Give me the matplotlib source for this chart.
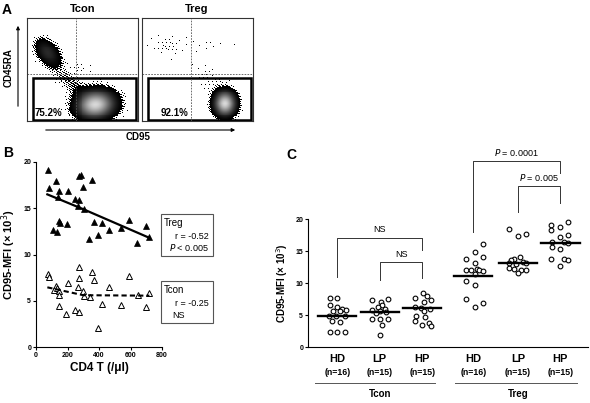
import numpy as np
import matplotlib
matplotlib.use('Agg')
import matplotlib.pyplot as plt
from matplotlib.patches import Rectangle, FancyArrowPatch

plt.rcParams['font.family'] = ['Liberation Sans', 'DejaVu Sans']

W, H = 590, 403

# ---- panel A: flow clusters (cx, cy, sigma_long, sigma_short, angle, weight), gate percentages
tcon_clusters = [(0.185, 0.665, 0.095, 0.06, -55, 0.30),
                 (0.62, 0.16, 0.11, 0.085, 8, 1.00),
                 (0.38, 0.38, 0.14, 0.06, -40, 0.08),
                 (0.48, 0.52, 0.10, 0.05, -20, 0.04)]
treg_clusters = [(0.75, 0.17, 0.062, 0.075, 0, 1.00),
                 (0.22, 0.74, 0.13, 0.08, -20, 0.045),
                 (0.58, 0.42, 0.12, 0.08, -30, 0.05),
                 (0.62, 0.75, 0.15, 0.08, 0, 0.03)]
tcon_pct = '75.2%'
treg_pct = '92.1%'

# ---- panel B: CD95 MFI vs CD4 count
treg_cd4 = [78, 85, 127, 148, 205, 142, 275, 286, 296, 358, 248, 273, 269, 305, 148, 155,
            195, 110, 131, 368, 421, 339, 392, 466, 540, 593, 643, 698, 717]
treg_mfi = [19.1, 17.2, 18.0, 16.9, 16.9, 16.2, 18.5, 18.6, 17.3, 18.1, 16.0, 15.9, 15.2, 14.9, 13.6, 13.4,
            13.3, 12.6, 12.4, 13.5, 13.4, 11.7, 12.1, 12.6, 12.9, 13.7, 11.2, 13.1, 11.9]
tcon_cd4 = [74, 83, 275, 358, 370, 273, 593, 205, 127, 114, 135, 145, 148, 265, 301, 305, 343,
            466, 148, 421, 190, 248, 273, 392, 540, 646, 698, 717]
tcon_mfi = [7.85, 7.6, 8.6, 8.1, 7.2, 7.5, 7.7, 6.9, 6.6, 6.2, 6.4, 6.1, 5.6, 6.45, 6.1, 5.5, 5.4,
            6.45, 4.4, 4.7, 3.55, 4.05, 3.75, 2.1, 4.5, 5.6, 4.3, 5.8]
treg_fit_x = [72, 300, 720]
treg_fit_y = [16.5, 14.9, 11.8]
tcon_fit_x = [72, 300, 720]
tcon_fit_y = [6.45, 5.6, 5.55]

# ---- panel C: CD95 MFI per group
groups = ['HD', 'LP', 'HP', 'HD', 'LP', 'HP']
group_n = [16, 15, 15, 16, 15, 15]
group_pos = [1, 2, 3, 4.2, 5.25, 6.25]
mfi = [
    [7.6, 7.6, 6.5, 6.3, 6.0, 5.8, 5.6, 5.6, 4.9, 4.8, 4.8, 4.0, 3.9, 2.4, 2.4, 2.4],
    [7.4, 7.1, 7.5, 6.6, 6.3, 6.0, 5.8, 5.6, 5.4, 5.3, 4.3, 4.3, 4.3, 3.4, 1.9],
    [8.4, 7.9, 7.7, 7.4, 7.0, 6.2, 6.1, 6.0, 5.7, 4.9, 4.7, 4.0, 3.8, 3.5, 3.3],
    [16.1, 14.8, 14.1, 13.8, 13.2, 12.0, 12.1, 12.2, 12.0, 11.9, 11.4, 10.3, 9.7, 7.5, 6.3, 6.8],
    [18.4, 17.6, 17.3, 14.1, 13.7, 13.6, 13.3, 13.2, 12.95, 12.3, 12.2, 12.0, 12.0, 11.6, 13.1],
    [19.5, 19.0, 18.8, 18.3, 17.5, 17.2, 16.35, 16.45, 16.2, 15.6, 15.25, 13.7, 13.8, 13.6, 12.7],
]
mfi_dx = [
    [-0.18, 0.0, -0.18, 0.0, 0.1, 0.2, -0.1, 0.06, -0.2, -0.02, 0.17, -0.12, 0.07, -0.18, 0.0, 0.18],
    [-0.18, 0.02, 0.2, 0.05, -0.05, 0.12, -0.18, 0.0, 0.15, -0.1, -0.18, 0.0, 0.2, 0.05, 0.0],
    [0.02, 0.12, -0.16, 0.21, 0.05, -0.18, -0.02, 0.17, 0.05, -0.14, 0.07, -0.18, 0.15, 0.0, 0.2],
    [0.23, 0.04, 0.23, -0.16, 0.04, -0.16, -0.06, 0.09, 0.13, 0.23, 0.03, -0.16, 0.03, -0.16, 0.03, 0.23],
    [-0.2, 0.2, 0.0, 0.05, -0.08, -0.16, 0.12, 0.2, -0.04, -0.2, -0.08, 0.08, 0.2, 0.0, -0.2],
    [0.17, -0.21, 0.0, -0.21, 0.17, 0.0, -0.2, 0.08, 0.17, -0.2, 0.0, -0.21, 0.08, 0.17, 0.0],
]
medians = [4.9, 5.4, 6.1, 11.1, 13.1, 16.3]
# (from group, to group, top, left leg end, right leg end, label)
brackets = [(0, 2, 17.1, 11.0, 15.1, 'NS'),
            (1, 2, 13.3, 10.5, 10.8, 'NS'),
            (3, 5, 29.0, 18.0, 27.2, '$P$ = 0.0001'),
            (4, 5, 25.1, 21.1, 22.5, '$P$ = 0.005')]


def box(l, t, r, b):
    return [l / W, 1 - b / H, (r - l) / W, (b - t) / H]


def fpt(x, y):
    return (x / W, 1 - y / H)


def flow_image(ax, clusters, thr=0.1):
    n = 112
    xs = (np.arange(n) + 0.5) / n
    gx, gy = np.meshgrid(xs, xs)
    d = np.zeros_like(gx)
    for cx, cy, sl, ss, ang, w in clusters:
        t = np.deg2rad(ang)
        u = (gx - cx) * np.cos(t) + (gy - cy) * np.sin(t)
        v = -(gx - cx) * np.sin(t) + (gy - cy) * np.cos(t)
        d += w * np.exp(-0.5 * ((u / sl) ** 2 + (v / ss) ** 2))
    # ordered (R2 low-discrepancy) threshold map for the stippled fringe
    ii, jj = np.meshgrid(np.arange(n), np.arange(n))
    dither = np.mod(0.5 + ii * 0.7548776662 + jj * 0.5698402910, 1.0)
    solid = d >= thr
    level = np.clip((d - thr) / (d.max() - thr), 0, 1)
    gray = np.where(solid, 0.85 * level ** 1.1, 1.0)
    dots = (~solid) & ((d / thr) ** 3 > dither)
    gray = np.where(dots, 0.0, gray)
    rgb = np.repeat(gray[:, :, None], 3, axis=2)
    ax.imshow(rgb, extent=[0, 1, 0, 1], origin='lower', interpolation='nearest', aspect='auto')
    ax.set_xlim(0, 1)
    ax.set_ylim(0, 1)
    ax.set_xticks([])
    ax.set_yticks([])
    for s in ax.spines.values():
        s.set_linewidth(0.8)
        s.set_color('#333333')


fig = plt.figure(figsize=(W / 100, H / 100), dpi=100)

# ================= panel A =================
ax_t = fig.add_axes(box(27, 18, 138, 121))
flow_image(ax_t, tcon_clusters)
ax_g = fig.add_axes(box(142, 18, 253, 121))
flow_image(ax_g, treg_clusters)
for ax, pct, px in [(ax_t, tcon_pct, 0.07), (ax_g, treg_pct, 0.17)]:
    ax.axvline(0.44, color='#555555', lw=0.6, ls=(0, (2, 1.5)))
    ax.axhline(0.456, color='#555555', lw=0.6, ls=(0, (2, 1.5)))
    ax.add_patch(Rectangle((0.054, 0.012), 0.931, 0.41, fill=False, lw=1.8, ec='black'))
    ax.text(px, 0.075, pct, fontsize=7, fontweight='bold', va='center')

fig.text(*fpt(83, 9), 'Tcon', fontsize=8, fontweight='bold', ha='center', va='center')
fig.text(*fpt(197, 9), 'Treg', fontsize=8, fontweight='bold', ha='center', va='center')
fig.text(*fpt(7, 10), 'A', fontsize=10, fontweight='bold', ha='center', va='center')
fig.text(*fpt(9, 68), 'CD45RA', fontsize=7, fontweight='bold', rotation=90, ha='center', va='center')
fig.text(*fpt(138, 137), 'CD95', fontsize=7, fontweight='bold', ha='center', va='center')
arrow = dict(arrowstyle='-|>', lw=0.8, color='black', mutation_scale=5)
fig.add_artist(FancyArrowPatch(fpt(18, 109), fpt(18, 23), transform=fig.transFigure, **arrow))
fig.add_artist(FancyArrowPatch(fpt(43, 130), fpt(238, 130), transform=fig.transFigure, **arrow))

# ================= panel B =================
axb = fig.add_axes(box(36, 162, 162, 347))
axb.plot(treg_cd4, treg_mfi, '^', color='black', ms=4.5, mew=0.5, clip_on=False)
axb.plot(tcon_cd4, tcon_mfi, '^', mfc='white', mec='black', ms=4.5, mew=0.7, clip_on=False)
axb.plot(treg_fit_x, treg_fit_y, '-', color='black', lw=1.6)
axb.plot(tcon_fit_x, tcon_fit_y, '--', color='black', lw=1.5, dashes=(2.5, 1.5))
axb.set_xlim(0, 800)
axb.set_ylim(0, 20)
axb.set_xticks([0, 200, 400, 600, 800])
axb.set_yticks([0, 5, 10, 15, 20])
for s in ['top', 'right']:
    axb.spines[s].set_visible(False)
for s in ['left', 'bottom']:
    axb.spines[s].set_linewidth(0.8)
axb.tick_params(length=2, width=0.8, labelsize=5, pad=1.5)
for lab in axb.get_xticklabels() + axb.get_yticklabels():
    lab.set_fontweight('bold')
axb.set_xlabel('CD4 T (/\u03bcl)', fontsize=8.5, fontweight='bold', labelpad=2)
axb.set_ylabel('CD95-MFI (\u00d7 10$^3$)', fontsize=8, fontweight='bold', labelpad=4)
fig.text(*fpt(8, 153), 'B', fontsize=10, fontweight='bold', ha='center', va='center')

for y0, y1, name, rtxt, ptxt in [(9.8, 14.4, 'Treg', 'r = -0.52', '$P$ < 0.005'),
                                  (2.56, 7.17, 'Tcon', 'r = -0.25', 'NS')]:
    axb.add_patch(Rectangle((792, y0), 334, y1 - y0, fill=False, lw=0.8, ec='#555555', clip_on=False))
    axb.text(812, y1 - 1.0, name, fontsize=7, va='center', clip_on=False)
    axb.text(1097, y1 - 2.45, rtxt, fontsize=6.5, va='center', ha='right', clip_on=False)
    if name == 'Treg':
        axb.text(1097, y1 - 3.6, ptxt, fontsize=6.5, va='center', ha='right', clip_on=False)
    else:
        axb.text(864, y1 - 3.8, ptxt, fontsize=6.5, va='center', ha='left', clip_on=False)

# ================= panel C =================
axc = fig.add_axes(box(308, 219, 588, 347))
for i in range(len(groups)):
    xs = np.array(mfi_dx[i]) + group_pos[i]
    axc.plot(xs, mfi[i], 'o', mfc='white', mec='black', ms=3.4, mew=0.8, clip_on=False)
    axc.plot([group_pos[i] - 0.45, group_pos[i] + 0.45], [medians[i]] * 2, color='black', lw=1.7)
axc.set_xlim(0.31, 6.9)
axc.set_ylim(0, 20)
axc.set_yticks([0, 5, 10, 15, 20])
axc.set_xticks([])
for s in ['top', 'right']:
    axc.spines[s].set_visible(False)
for s in ['left', 'bottom']:
    axc.spines[s].set_linewidth(0.8)
axc.tick_params(length=2, width=0.8, labelsize=5, pad=1.5)
for lab in axc.get_yticklabels():
    lab.set_fontweight('bold')
axc.set_ylabel('CD95-MFI (\u00d7 10$^3$)', fontsize=7, fontweight='bold', labelpad=4)

for a, b, top, la, lb, txt in brackets:
    xa, xb = group_pos[a], group_pos[b]
    axc.plot([xa, xa, xb, xb], [la, top, top, lb], color='#333333', lw=0.7, clip_on=False)
    axc.text((xa + xb) / 2, top + 0.5, txt, fontsize=6.5, ha='center', va='bottom', clip_on=False)

tr = axc.get_xaxis_transform()
for i in range(len(groups)):
    axc.text(group_pos[i], -0.096, groups[i], transform=tr, fontsize=8, fontweight='bold', ha='center', va='center')
    axc.text(group_pos[i], -0.196, '(n=%d)' % group_n[i], transform=tr, fontsize=6.3, fontweight='bold',
             ha='center', va='center')
for lo, hi, name, cx in [(0.475, 3.30, 'Tcon', 2.0), (3.77, 6.64, 'Treg', 5.25)]:
    axc.plot([lo, hi], [-0.279, -0.279], transform=tr, color='#555555', lw=0.7, clip_on=False)
    axc.text(cx, -0.365, name, transform=tr, fontsize=7, fontweight='bold', ha='center', va='center')
fig.text(*fpt(291, 155), 'C', fontsize=10, fontweight='bold', ha='center', va='center')

fig.savefig('out.png', dpi=100)
